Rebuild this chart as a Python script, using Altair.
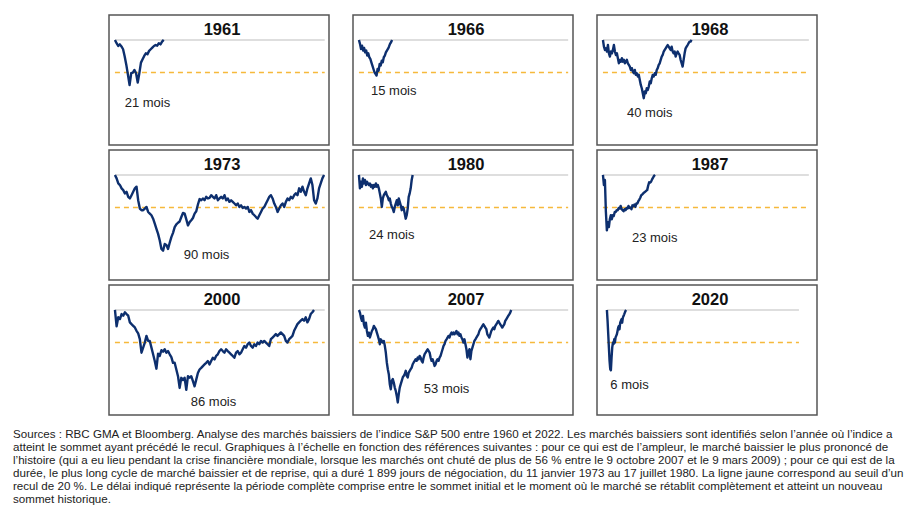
import altair as alt
import numpy as np
import pandas as pd

years = ["1961", "1966", "1968", "1973", "1980", "1987", "2000", "2007", "2020"]
labels = ["21 mois", "15 mois", "40 mois", "90 mois", "24 mois", "23 mois", "86 mois", "53 mois", "6 mois"]
# duration of each cycle in trading days (peak -> new high)
durations = [443, 301, 805, 1899, 488, 473, 1808, 1383, 175]
# trading day at which each drawn cycle starts on its panel
start_day = [0, 0, 0, 0, 0, 0, 0, 0, 36]
# extent of the peak / -20 % reference lines on each panel (trading days)
ref_start = [0, 0, 0, 0, 0, 0, 0, 0, 36]
ref_end = [1905, 1900, 1870, 1905, 1900, 1870, 1905, 1900, 1780]
# where the "N mois" label sits (trading day, % from peak)
label_day = [295, 316, 425, 832, 298, 470, 895, 796, 241]
label_val = [-38.8, -31.6, -44.9, -48.9, -36.7, -38.8, -56.5, -48.6, -45.9]

# drawdown from peak (%), evenly spaced over each cycle
s1961 = [0, -2, -3.7, -2.7, -4, -5.7, -10.2, -15.3, -21.4, -27.6, -20.4, -20, -18.4, -20.4, -26.1, -20.4,
         -13.9, -11.8, -9.8, -8.2, -8.8, -6.7, -5.7, -4.7, -3.7, -3.1, -3.5, -2, -2.7, -1, 0]
s1966 = [0, -2.4, -5.5, -3.5, -6.5, -4.9, -7.6, -6.5, -9.6, -8.2, -10.6, -11.6, -13.7, -15.7, -17.8, -19.8,
         -20.8, -21.8, -17.8, -18.8, -14.7, -15.7, -12.7, -13.7, -10.6, -9.6, -7.6, -6.5, -5.5, -4.1, -2.4, -1.4, 0]
s1968 = [0, -4.1, -6.1, -5.1, -7.1, -3.1, -8.2, -10.2, -7.1, -8.2, -6.1, -3.1, -7.1, -9.2, -8.2, -11.2,
         -14.3, -12.2, -13.3, -11.2, -13.3, -12.2, -14.3, -13.3, -12.2, -14.3, -15.3, -16.3, -18.4, -17.3,
         -19.4, -20.4, -18.4, -21.4, -20.4, -22.4, -21.4, -24.5, -27.6, -29.6, -32.7, -35.7, -31.6, -32.7,
         -29.6, -30.6, -28.6, -25.5, -26.5, -23.5, -21.4, -22.4, -20.4, -21.4, -18.4, -17.3, -15.3, -14.3,
         -12.2, -10.2, -9.2, -7.1, -6.1, -5.1, -4.1, -3.1, -4.1, -5.1, -6.1, -4.1, -7.1, -8.2, -7.1, -10.2,
         -8.2, -7.1, -8.2, -9.2, -12.2, -14.3, -16.3, -12.2, -8.2, -5.1, -4.1, -3.1, -2, -1, -1, 0]
s1973 = [0, -2.1, -5.2, -6.2, -8.2, -9.3, -11.3, -10.3, -13.4, -14.4, -12.4, -10.3, -8.2, -7.2, -15.5,
         -20.6, -21.6, -21.6, -20.6, -19.6, -22.7, -23.7, -24.7, -26.8, -29.9, -33, -36.1, -40.2, -45.4,
         -46.4, -42.3, -42.9, -45.4, -41.6, -38.1, -35.5, -32, -30.3, -29.3, -28.5, -25.8, -23.3, -23.7,
         -27.2, -30.9, -28.9, -27.8, -26.4, -23.7, -22.3, -18.1, -14.8, -15.5, -14.4, -15.5, -13.4, -14.4,
         -14, -12.4, -13.4, -14.4, -12.4, -15.5, -14.4, -13.4, -14.4, -12.4, -15.5, -14.4, -16.5, -15.5,
         -16.5, -17.5, -18.6, -17.5, -19.6, -18.6, -20.2, -19.6, -20.6, -19.6, -22.7, -21.6, -23.7, -24.7,
         -25.8, -26.8, -24.7, -22.7, -20.6, -19.6, -17.5, -15.5, -13.4, -12.4, -14.4, -17.5, -19.6, -22.7,
         -20.6, -18.6, -17.5, -19.6, -16.5, -14.4, -15.5, -13.4, -14.4, -12.4, -11.3, -12.4, -8.2, -10.3,
         -7.2, -10.3, -12.4, -8.2, -5.2, -2.1, -6.2, -15.5, -17.5, -14.4, -8.2, -5.2, -2.1, 0]
s1980 = [0, -8.2, -4.1, -7.2, -2.1, -5.2, -3.1, -6.2, -4.1, -5.2, -6.2, -5.2, -7.2, -6.2, -8.2, -6.2,
         -7.2, -5.2, -7.2, -6.2, -8.2, -11.3, -14.4, -19.6, -14.4, -12.4, -11.3, -10.3, -12.4, -13.4,
         -15.5, -14.4, -17.5, -19.6, -20.6, -22.7, -19.6, -17.5, -15.5, -18.6, -14.4, -16.5, -18.6, -21.6,
         -19.6, -20.6, -23.7, -26.8, -24.7, -20.6, -13.4, -11.3, -8.2, -3.1, 0]
s1987 = [0, -6.2, -3.1, -22.7, -34, -28.9, -32, -27.2, -24.7, -27.2, -24.7, -25.2, -22.7, -22.7, -21.6,
         -21.6, -20.2, -20.6, -19, -21, -21.6, -22.3, -21, -21.6, -20.2, -20.6, -19, -20.2, -20, -21, -18.6,
         -19.2, -18.1, -19.6, -17.5, -17.5, -16.1, -15.1, -14, -12.4, -12, -11.3, -10.7, -10.3, -9.7, -9.3,
         -6.6, -4.5, -4.7, -4.1, -2.7, -1.6, -0.6, 0]
s2000 = [0, -10, -4.5, -5.6, -2.5, -3.5, -1.4, -2.5, -3.5, -7.6, -8.7, -9.7, -10.7, -12.8, -14.4, -17.9,
         -26.2, -23.1, -20, -15.9, -19, -19, -23.1, -27.2, -31.3, -36, -26.8, -28.2, -24.7, -25.6, -24.1,
         -26.2, -25.2, -27.2, -28.9, -32.4, -32.4, -36.5, -40.6, -47.8, -41.6, -43, -41.6, -49, -40.6,
         -41.5, -40.6, -43.7, -46.8, -42.7, -38.6, -36.5, -35.5, -34.4, -33.4, -32.4, -31.3, -33.4, -31.3,
         -29.3, -30.3, -28.2, -27.2, -25.2, -24.1, -25.2, -26.2, -24.1, -25.2, -26.2, -27.2, -28.2, -29.3,
         -26.2, -25.2, -27.2, -26.2, -24.1, -22.1, -23.1, -21, -20, -22.1, -23.1, -21, -22.1, -20, -21, -19,
         -20, -19, -20, -21, -22.1, -17.9, -16.9, -15.9, -14.8, -15.9, -14.8, -13.8, -14.8, -15.9, -19, -20,
         -17.9, -16.9, -15.9, -12.8, -10.7, -8.7, -7.6, -6.6, -5.6, -6.6, -4.5, -7.6, -5.6, -2.5, -1.4, 0]
s2007 = [0, -1.6, -4.7, -6.7, -3.7, -8.8, -10.8, -7.8, -12.9, -15.9, -13.9, -16.9, -14.9, -12.9, -11.8,
         -9.8, -10.8, -11.8, -13.9, -15.9, -18, -21, -18, -19, -20, -19, -22, -26.1, -32.2, -36.3, -39.4,
         -45.5, -48.6, -43.5, -42.4, -44.5, -47.6, -49.6, -52.7, -56.7, -51.6, -47.6, -45.5, -43.5, -41.4,
         -40.4, -39.4, -37.3, -40.4, -41.4, -38.4, -37.3, -36.3, -35.3, -33.3, -32.2, -31.2, -30.2, -31.2,
         -29.2, -30.2, -28.2, -29.2, -31.2, -32.2, -29.2, -27.1, -26.1, -25.1, -24.1, -25.1, -26.1, -29.2,
         -31.2, -30.2, -32.2, -34.3, -33.3, -31.2, -30.2, -31.2, -29.2, -28.2, -26.1, -24.1, -22, -21, -19,
         -18, -16.9, -15.9, -16.9, -14.9, -13.9, -14.9, -13.9, -14.9, -13.9, -12.9, -14.9, -13.9, -15.9,
         -14.9, -16.9, -18, -20, -18, -21, -24.1, -29.2, -26.1, -24.1, -30.2, -25.1, -23.1, -21, -19, -18,
         -16.9, -15.9, -14.9, -12.9, -11.8, -10.8, -9.8, -8.8, -9.8, -10.8, -11.8, -14.9, -15.9, -16.9,
         -14.9, -12.9, -11.8, -10.8, -11.8, -9.8, -8.8, -7.8, -6.7, -7.8, -8.8, -9.8, -10.8, -9.8, -8.8,
         -6.7, -5.7, -4.7, -3.7, -2.7, -1.6, 0]
s2020 = [0, -6.7, -14.9, -23.1, -31.2, -36.3, -37, -29.2, -23.1, -20, -21, -18, -20, -16.9, -15.9, -14.9,
         -12.9, -10.8, -9.8, -11.8, -7.8, -6.7, -5.7, -7.8, -4.7, -3.7, -2.7, -1.6, -0.6, 0]

series = [s1961, s1966, s1968, s1973, s1980, s1987, s2000, s2007, s2020]

footer = [
    "Sources : RBC GMA et Bloomberg. Analyse des marchés baissiers de l’indice S&P 500 entre 1960 et 2022. Les marchés baissiers sont identifiés selon l’année où l’indice a",
    "atteint le sommet ayant précédé le recul. Graphiques à l’échelle en fonction des références suivantes : pour ce qui est de l’ampleur, le marché baissier le plus prononcé de",
    "l’histoire (qui a eu lieu pendant la crise financière mondiale, lorsque les marchés ont chuté de plus de 56 % entre le 9 octobre 2007 et le 9 mars 2009) ; pour ce qui est de la",
    "durée, le plus long cycle de marché baissier et de reprise, qui a duré 1 899 jours de négociation, du 11 janvier 1973 au 17 juillet 1980. La ligne jaune correspond au seuil d’un",
    "recul de 20 %. Le délai indiqué représente la période complète comprise entre le sommet initial et le moment où le marché se rétablit complètement et atteint un nouveau",
    "sommet historique.",
]

rows = []
for yr, dur, st, vals in zip(years, durations, start_day, series):
    days = st + np.linspace(0, dur, len(vals))
    for d, v in zip(days, vals):
        rows.append({"year": yr, "kind": "s", "day": float(d), "value": v, "txt": "", "r0": 0, "r1": 0})
for yr, lab, ld, lv, r0, r1 in zip(years, labels, label_day, label_val, ref_start, ref_end):
    rows.append({"year": yr, "kind": "l", "day": ld, "value": lv, "txt": lab, "r0": r0, "r1": r1})
df = pd.DataFrame(rows)

foot_df = pd.DataFrame({"i": list(range(len(footer))), "line": footer})

W, H = 220, 130
xs = alt.Scale(domain=[-54, 1944], nice=False, zero=False)
ys = alt.Scale(domain=[-64.4, 15.3], nice=False, zero=False)
BORDER = alt.ViewBackground(stroke="#555", strokeWidth=1.5)
NOBORDER = alt.ViewBackground(stroke="transparent")


def panel(yr):
    base = alt.Chart().properties(width=W, height=H)
    line = base.mark_line(color="#0d2f6e", strokeWidth=2.4, strokeJoin="round").encode(
        x=alt.X("day:Q", scale=xs, axis=None),
        y=alt.Y("value:Q", scale=ys, axis=None),
        order="day:Q",
    ).transform_filter(alt.datum.kind == "s")
    refs = base.transform_filter(alt.datum.kind == "l").transform_calculate(peak="0", seuil="-20")
    gray = refs.mark_rule(color="#d3d3d3", strokeWidth=1.6).encode(
        x=alt.X("r0:Q", scale=xs, axis=None), x2="r1:Q", y=alt.Y("peak:Q", scale=ys, axis=None)
    )
    yellow = refs.mark_rule(color="#f6b93b", strokeWidth=1.5, strokeDash=[5, 4]).encode(
        x=alt.X("r0:Q", scale=xs, axis=None), x2="r1:Q", y=alt.Y("seuil:Q", scale=ys, axis=None)
    )
    ttl = refs.mark_text(fontSize=16.5, fontWeight="bold", color="#111", baseline="middle",
                         align="center", font="Liberation Sans").encode(
        x=alt.value(W / 2 + 3), y=alt.value(15), text="year:N"
    )
    lab = refs.mark_text(fontSize=13, color="#222", baseline="middle", align="center",
                         font="Liberation Sans").encode(
        x=alt.X("day:Q", scale=xs, axis=None), y=alt.Y("value:Q", scale=ys, axis=None), text="txt:N"
    )
    return alt.layer(gray, yellow, line, ttl, lab, data=df).transform_filter(
        alt.datum.year == yr
    ).properties(view=BORDER)


def spacer():
    return alt.Chart(foot_df).mark_point(opacity=0, size=1).encode(
        x=alt.value(20), y=alt.value(20)
    ).properties(width=72, height=H, view=NOBORDER)


grid_rows = []
for r in range(3):
    grid_rows.append(alt.hconcat(spacer(), *[panel(y) for y in years[3 * r:3 * r + 3]], spacing=22))
grid = alt.vconcat(*grid_rows, spacing=3)

foot = alt.Chart(foot_df).mark_text(
    align="left", baseline="middle", fontSize=11.6, color="#222",
    font="Liberation Sans Narrow, Liberation Sans, Arial",
).encode(
    x=alt.value(0),
    y=alt.Y("i:Q", scale=alt.Scale(domain=[0, 5], range=[5, 70]), axis=None),
    text="line:N",
).properties(width=860, height=72, view=NOBORDER)

chart = alt.vconcat(grid, foot, spacing=12).properties(
    padding={"left": 4, "top": 6, "right": 0, "bottom": 0},
)

chart.save("out.html", embed_options={"renderer": "svg", "actions": False})
